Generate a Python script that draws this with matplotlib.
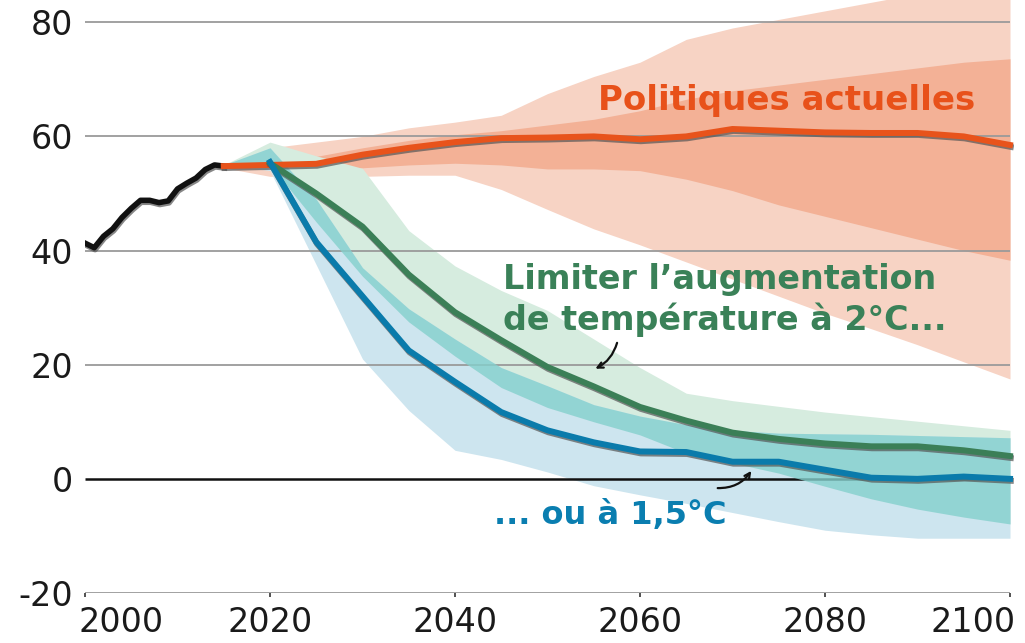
import numpy as np
import matplotlib
matplotlib.use("Agg")
import matplotlib.pyplot as plt
import matplotlib.patheffects as pe
import matplotlib.transforms as mtransforms

plt.rcParams['font.family'] = ['DejaVu Sans']
plt.rcParams['axes.unicode_minus'] = False

# historical emissions
hist_years = list(range(2000, 2016))
hist_vals = [41.3, 40.5, 42.5, 43.8, 45.8, 47.4, 48.8, 48.8, 48.4, 48.7,
             50.8, 51.8, 52.7, 54.2, 55.0, 54.8]

# scenario years (bands start in 2015, green/blue lines in 2020)
band_years = list(range(2015, 2101, 5))
line_years = list(range(2020, 2101, 5))

# current policies
cur_line = [54.8, 55.0, 55.2, 56.8, 58.0, 59.0, 59.7, 59.8, 60.0, 59.5,
            60.0, 61.3, 61.0, 60.7, 60.6, 60.6, 60.0, 58.5]
cur_outer_hi = [55, 58, 59, 60, 61.5, 62.5, 63.7, 67.5, 70.5, 73, 77, 79,
                80.5, 82, 83.5, 85, 86, 87]
cur_outer_lo = [54.5, 53, 53, 53, 53.2, 53.2, 50.7, 47.2, 43.8, 41, 38, 35,
                32, 29, 26.3, 23.5, 20.5, 17.5]
cur_inner_hi = [55, 56, 56.5, 58, 59.3, 60.3, 61, 62, 63, 64.5, 66.5, 68,
                69, 70, 71, 72, 73, 73.6]
cur_inner_lo = [55, 54, 54, 54.5, 55, 55.3, 55, 54.3, 54.3, 54, 52.5, 50.5,
                48, 46, 44, 42, 40, 38.3]

# 2 degrees
g_line = [55.3, 50.0, 44.2, 35.8, 29.2, 24.3, 19.6, 16.2, 12.6, 10.2, 8.1,
          7.0, 6.2, 5.7, 5.7, 5.0, 4.0]
g_hi = [55, 59, 56.6, 54.4, 43.5, 37.3, 33, 29.5, 24.5, 19.5, 15, 13.7,
        12.7, 11.7, 10.9, 10.1, 9.3, 8.5]
g_lo = [55, 55, 45, 35.5, 27.5, 21.5, 16, 12.5, 10, 7.7, 4.5, 2.8, 1.0,
        -1.3, -3.5, -5.3, -6.7, -7.9]

# 1.5 degrees
b_line = [55.5, 41.5, 32.0, 22.5, 17.0, 11.7, 8.5, 6.4, 4.8, 4.7, 3.0, 3.0,
          1.6, 0.2, 0.0, 0.4, 0.0]
b_hi = [55, 58, 49, 37, 29.8, 24.5, 19.5, 16.3, 13, 11, 9.5, 8.5, 8.0, 7.9,
        7.8, 7.6, 7.4, 7.2]
b_lo = [55, 54, 37.5, 21, 12, 5, 3.4, 1.2, -1.2, -2.8, -4.3, -5.9, -7.5,
        -9.0, -9.8, -10.4, -10.4, -10.4]

yticks = [-20, 0, 20, 40, 60, 80]
xticks = [2000, 2020, 2040, 2060, 2080, 2100]

fig = plt.figure(figsize=(10.25, 6.43), dpi=100)
ax = fig.add_axes([85 / 1025, 50 / 643, 928.7 / 1025, 593 / 643])
ax.set_xlim(2000, 2100.4)
ax.set_ylim(-20, 83.9)

# bands
ax.fill_between(band_years, cur_outer_lo, cur_outer_hi, color='#f7d3c4', lw=0, zorder=1)
ax.fill_between(band_years, cur_inner_lo, cur_inner_hi, color='#f3b196', lw=0, zorder=1.1)
ax.fill_between(band_years, g_lo, g_hi, color='#d6ecdf', lw=0, zorder=1.2)
ax.fill_between(band_years, b_lo, b_hi, color='#cde5ef', lw=0, zorder=1.3)
teal_lo = np.maximum(g_lo, b_lo)
teal_hi = np.minimum(g_hi, b_hi)
ax.fill_between(band_years, teal_lo, teal_hi, color='#84d0cc', alpha=0.8, lw=0, zorder=2.5)

# grid
ax.hlines([v for v in yticks if v != 0], 2000, 2100, color='#9a9a9a', lw=1.3, zorder=2)
ax.hlines(0, 2000, 2100, color='#111111', lw=1.8, zorder=2.2)

shadow = [pe.SimpleLineShadow(offset=(0.6, -1.4), shadow_color='#555555', alpha=0.7), pe.Normal()]
ax.plot(hist_years, hist_vals, color='#111111', lw=4.0, solid_joinstyle='round',
        path_effects=shadow, zorder=5)
ax.plot(band_years, cur_line, color='#e8531b', lw=4.3, path_effects=shadow, zorder=5)
ax.plot(line_years, g_line, color='#3b7f57', lw=4.3, path_effects=shadow, zorder=5)
ax.plot(line_years, b_line, color='#0a7bab', lw=4.3, path_effects=shadow, zorder=5)

# axes styling
for s in ax.spines.values():
    s.set_visible(False)
ax.set_yticks(yticks)
ax.set_yticklabels([str(v) for v in yticks])
ax.set_xticks(xticks)
ax.set_xticklabels([str(v) for v in xticks])
ax.tick_params(axis='y', length=0, pad=8.5, labelsize=24, labelcolor='#1a1a1a')
ax.tick_params(axis='x', length=3.2, width=1.2, color='#333333', pad=6,
               labelsize=24, labelcolor='#1a1a1a', direction='out')
labs = ax.get_xticklabels()
labs[0].set_transform(labs[0].get_transform() +
                      mtransforms.ScaledTranslation(36 / 100, 0, fig.dpi_scale_trans))
labs[-1].set_transform(labs[-1].get_transform() +
                       mtransforms.ScaledTranslation(-37 / 100, 0, fig.dpi_scale_trans))

# annotations
ax.text(2055.5, 64.6, 'Politiques actuelles', color='#e8511a', fontsize=24.5,
        fontweight='bold', ha='left', va='baseline', zorder=6)
ax.text(2045.2, 33.2, 'Limiter l\u2019augmentation', color='#3a8158', fontsize=24,
        fontweight='bold', ha='left', va='baseline', zorder=6)
ax.text(2045.2, 26.1, 'de température à 2°C...', color='#3a8158', fontsize=24,
        fontweight='bold', ha='left', va='baseline', zorder=6)
ax.text(2044.2, -7.9, '... ou à 1,5°C', color='#0a7eb0', fontsize=23,
        fontweight='bold', ha='left', va='baseline', zorder=6)

ax.annotate('', xy=(2054.9, 19.1), xytext=(2057.6, 24.3),
            arrowprops=dict(arrowstyle='->', color='#111111', lw=1.6,
                            connectionstyle='arc3,rad=-0.25'), zorder=6)
ax.annotate('', xy=(2072.2, 1.8), xytext=(2068.1, -1.6),
            arrowprops=dict(arrowstyle='->', color='#111111', lw=1.6,
                            connectionstyle='arc3,rad=0.3'), zorder=6)

fig.savefig('out.png', dpi=100)
